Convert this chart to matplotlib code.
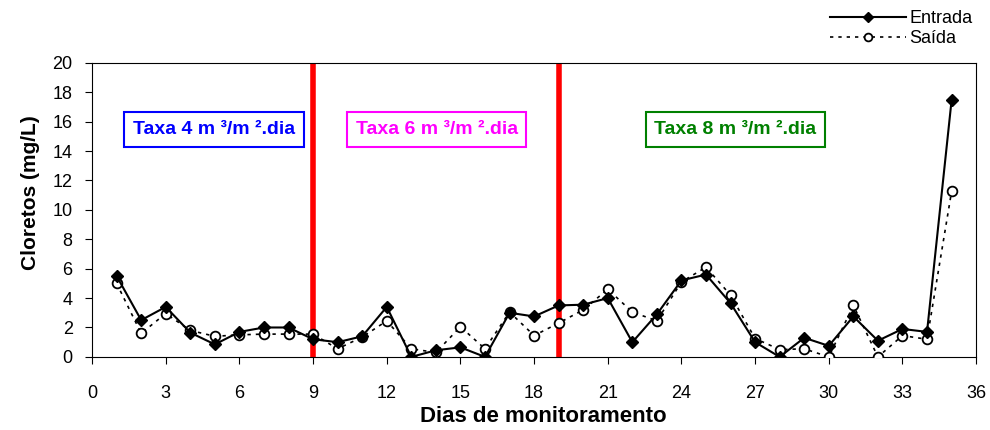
import matplotlib
matplotlib.use("Agg")
import matplotlib.pyplot as plt

plt.rcParams['font.family'] = ['Liberation Sans', 'DejaVu Sans']

# dias de monitoramento
dias = list(range(1, 36))
# cloretos (mg/L)
entrada = [5.5, 2.5, 3.4, 1.65, 0.85, 1.7, 2.0, 2.0, 1.2, 1.0,
           1.4, 3.4, 0.0, 0.45, 0.65, 0.0, 3.0, 2.75, 3.5, 3.55,
           4.0, 1.0, 2.9, 5.2, 5.6, 3.65, 1.0, 0.0, 1.3, 0.75,
           2.75, 1.1, 1.9, 1.7, 17.45]
saida = [5.0, 1.6, 2.95, 1.8, 1.4, 1.5, 1.55, 1.55, 1.55, 0.55,
         1.35, 2.45, 0.55, 0.3, 2.05, 0.55, 3.05, 1.45, 2.3, 3.2,
         4.6, 3.05, 2.45, 5.1, 6.1, 4.2, 1.25, 0.5, 0.55, 0.0,
         3.5, 0.0, 1.45, 1.2, 11.25]

# mudancas de taxa
cortes = [9, 19]
taxas = ['Taxa 4 m ³/m ².dia', 'Taxa 6 m ³/m ².dia', 'Taxa 8 m ³/m ².dia']
taxa_x = [4.97, 14.03, 26.2]
taxa_cores = ['#0000ff', '#ff00ff', '#008000']

fig = plt.figure(figsize=(9.9, 4.3), dpi=100)
ax = fig.add_axes([0.093, 0.170, 0.893, 0.684])

for c in cortes:
    ax.axvline(c, color='#ff0000', lw=4, zorder=1)

ax.plot(dias, saida, linestyle=(0, (2, 3)), color='black', lw=1.2,
        marker='o', markersize=7, markerfacecolor='white',
        markeredgecolor='black', markeredgewidth=1.3, label='Saída', zorder=3)
ax.plot(dias, entrada, '-', color='black', lw=1.5,
        marker='D', markersize=6.5, markerfacecolor='black',
        markeredgecolor='black', label='Entrada', zorder=4)

for t, x, c in zip(taxas, taxa_x, taxa_cores):
    ax.text(x, 15.45, t, color=c, fontsize=14, fontweight='bold',
            ha='center', va='center',
            bbox=dict(boxstyle='square,pad=0.45', facecolor='white', edgecolor=c, lw=1.5))

ax.set_xlim(0, 36)
ax.set_ylim(0, 20)
ax.set_xticks(range(0, 37, 3))
ax.set_yticks(range(0, 21, 2))
ax.tick_params(labelsize=13, direction='out', length=5)
ax.tick_params(axis='x', pad=15)
ax.tick_params(axis='y', pad=9)
ax.set_xlabel('Dias de monitoramento', fontsize=16, fontweight='bold')
ax.set_ylabel('Cloretos (mg/L)', fontsize=15, fontweight='bold')
ax.xaxis.set_label_coords(0.51, -0.168)
ax.yaxis.set_label_coords(-0.059, 0.56)

h, l = ax.get_legend_handles_labels()
fig.legend(h[::-1], l[::-1], loc='upper right', bbox_to_anchor=(0.995, 1.005),
           frameon=False, fontsize=13, handlelength=4.2, handletextpad=0.2,
           labelspacing=0.15, borderpad=0.2, markerscale=0.8)

fig.savefig('out.png', dpi=100)
